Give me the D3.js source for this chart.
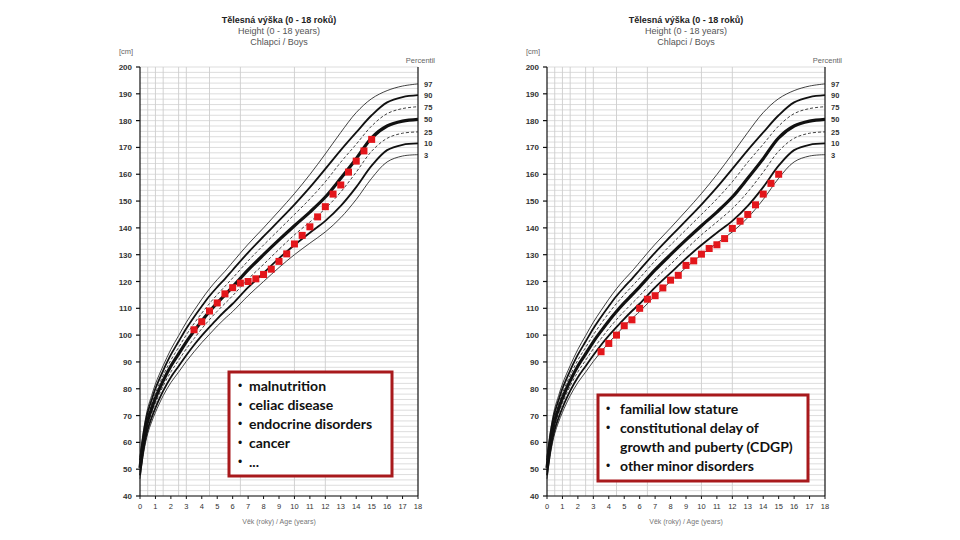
<!DOCTYPE html>
<html>
<head>
<meta charset="utf-8">
<script src="https://cdn.jsdelivr.net/npm/d3@7"></script>
<style>
  body { margin: 0; background: #fff; }
  svg { display: block; }
  text { font-family: "Liberation Sans", Arial, sans-serif; }
  .note { font-family: Lato, "Open Sans", sans-serif; font-size: 14px; font-weight: bold; fill: #111; }
  .bullet { font-family: "Liberation Sans", Arial, sans-serif; font-size: 12px; fill: #111; }
</style>
</head>
<body>
<svg id="chart" width="960" height="540"></svg>
<script>
// percentile reference, boys height (cm) by age (years)
const ages = [0, 0.25, 0.5, 0.75, 1, 1.5, 2, 2.5, 3, 3.5, 4, 4.5, 5, 5.5, 6, 7, 8, 9, 10, 11, 12, 13, 14, 15, 16, 17, 18];
const p3  = [46.4, 56.7, 63.3, 67.6, 71.2, 77.4, 82.3, 86.2, 90.2, 93.8, 97.2, 100.3, 103.4, 106.2, 108.8, 114.7, 120.0, 125.2, 130.0, 134.3, 138.5, 143.8, 150.6, 158.5, 164.6, 166.8, 167.3];
const p10 = [47.7, 58.1, 64.8, 69.2, 72.9, 79.2, 84.3, 88.4, 92.5, 96.3, 99.8, 103.0, 106.1, 109.0, 111.7, 117.8, 123.2, 128.6, 133.6, 138.2, 142.6, 148.2, 155.2, 163.2, 169.0, 171.0, 171.5];
const p25 = [49.0, 59.5, 66.3, 70.8, 74.6, 81.0, 86.3, 90.6, 94.9, 98.7, 102.4, 105.8, 108.9, 111.8, 114.7, 120.9, 126.4, 132.0, 137.4, 142.2, 147.2, 153.4, 160.8, 168.6, 173.4, 175.3, 175.8];
const p50 = [50.5, 61.0, 68.0, 72.5, 76.5, 83.0, 88.5, 93.0, 97.5, 101.5, 105.3, 108.8, 112.0, 115.0, 118.0, 124.3, 130.0, 135.5, 140.8, 145.9, 151.5, 158.5, 165.8, 173.6, 178.0, 179.8, 180.5];
const p75 = [52.0, 62.6, 69.7, 74.3, 78.4, 85.0, 90.7, 95.4, 100.1, 104.3, 108.2, 111.8, 115.1, 118.2, 121.3, 127.7, 133.6, 139.3, 145.0, 150.8, 157.2, 164.5, 171.2, 178.0, 182.6, 184.5, 185.2];
const p90 = [53.3, 64.0, 71.2, 75.8, 80.1, 86.8, 92.7, 97.6, 102.5, 106.8, 110.8, 114.6, 117.9, 121.0, 124.3, 130.8, 136.8, 142.7, 148.7, 155.1, 162.0, 169.0, 175.6, 182.0, 186.8, 188.8, 189.5];
const p97 = [54.6, 65.3, 72.7, 77.4, 81.8, 88.6, 94.7, 99.8, 104.8, 109.2, 113.4, 117.3, 120.7, 123.8, 127.2, 133.9, 140.0, 146.3, 152.8, 159.9, 167.6, 175.6, 183.0, 188.2, 191.2, 192.9, 193.7];

const percentileNames = ["97", "90", "75", "50", "25", "10", "3"];
const yTicks = [200, 190, 180, 170, 160, 150, 140, 130, 120, 110, 100, 90, 80, 70, 60, 50, 40];
const xTicks = [0, 1, 2, 3, 4, 5, 6, 7, 8, 9, 10, 11, 12, 13, 14, 15, 16, 17, 18];
const xGrid = [0.5, 1, 1.5, 2.5, 3, 4.5, 6.5, 10, 12];

// measured patients
const pointAges = [3.5, 4, 4.5, 5, 5.5, 6, 6.5, 7, 7.5, 8, 8.5, 9, 9.5, 10, 10.5, 11, 11.5, 12, 12.5, 13, 13.5, 14, 14.5, 15];
const leftHeights = [102, 105, 109, 112, 115.4, 117.7, 119.4, 120, 121, 122.6, 124.6, 127.5, 130.3, 134, 137.2, 140.4, 144.1, 147.9, 152.6, 156, 160.8, 164.9, 168.7, 173];
const rightHeights = [93.8, 96.9, 100, 103.5, 105.7, 110, 113.4, 114.7, 117.6, 120.5, 122.3, 126, 127.7, 130.2, 132.3, 133.7, 136, 139.8, 142.5, 145, 148.6, 152.6, 156.6, 160];

const leftNotes = [["malnutrition"], ["celiac disease"], ["endocrine disorders"], ["cancer"], ["..."]];
const rightNotes = [["familial low stature"], ["constitutional delay of", "growth and puberty (CDGP)"], ["other minor disorders"]];

const titleLines = ["Tělesná výška (0 - 18 roků)", "Height (0 - 18 years)", "Chlapci / Boys"];

const svg = d3.select("#chart");
const curveStyles = {
  "97": { w: 0.8, dash: null },
  "90": { w: 1.8, dash: null },
  "75": { w: 0.8, dash: "3,2" },
  "50": { w: 3.2, dash: null },
  "25": { w: 0.8, dash: "3,2" },
  "10": { w: 1.8, dash: null },
  "3":  { w: 0.8, dash: null }
};
const series = [p97, p90, p75, p50, p25, p10, p3];

function drawChart(x0, heights, notes, box) {
  const g = svg.append("g");
  const x = d3.scaleLinear().domain([0, 18]).range([x0, x0 + 278]);
  const y = d3.scaleLinear().domain([40, 200]).range([496, 67]);
  const cx = x(9);

  // titles
  g.selectAll(".title").data(titleLines).join("text")
    .attr("x", cx).attr("y", (d, i) => 23 + i * 11)
    .attr("text-anchor", "middle")
    .attr("font-size", "9px")
    .attr("font-weight", (d, i) => i === 0 ? "bold" : "normal")
    .attr("fill", (d, i) => i === 0 ? "#222" : "#555")
    .text(d => d);

  g.append("text").attr("x", x0 - 21).attr("y", 54)
    .attr("font-size", "7.5px").attr("fill", "#666").text("[cm]");
  g.append("text").attr("x", x(18) + 17).attr("y", 63)
    .attr("text-anchor", "end")
    .attr("font-size", "7.5px").attr("fill", "#666").text("Percentil");

  // grid
  g.selectAll(".hgrid").data(d3.range(40, 201, 2)).join("line")
    .attr("x1", x(0)).attr("x2", x(18))
    .attr("y1", d => y(d)).attr("y2", d => y(d))
    .attr("stroke", "#d4d4d4").attr("stroke-width", 0.8);
  g.selectAll(".vgrid").data(xGrid).join("line")
    .attr("x1", d => x(d)).attr("x2", d => x(d))
    .attr("y1", y(40)).attr("y2", y(200))
    .attr("stroke", "#cdcdcd").attr("stroke-width", 0.9);

  // frame
  g.append("line").attr("x1", x(0)).attr("x2", x(0)).attr("y1", y(40)).attr("y2", y(200))
    .attr("stroke", "#111").attr("stroke-width", 1.2);
  g.append("line").attr("x1", x(18)).attr("x2", x(18)).attr("y1", y(40)).attr("y2", y(200))
    .attr("stroke", "#111").attr("stroke-width", 1.2);
  g.append("line").attr("x1", x(0)).attr("x2", x(18)).attr("y1", y(40)).attr("y2", y(40))
    .attr("stroke", "#111").attr("stroke-width", 1.2);

  // y ticks
  g.selectAll(".yt").data(yTicks).join("line")
    .attr("x1", x(0) - 4).attr("x2", x(0))
    .attr("y1", d => y(d)).attr("y2", d => y(d))
    .attr("stroke", "#111").attr("stroke-width", 1.2);
  g.selectAll(".yl").data(yTicks).join("text")
    .attr("x", x(0) - 8).attr("y", d => y(d) + 3)
    .attr("text-anchor", "end").attr("font-size", "8px").attr("font-weight", "bold")
    .attr("fill", "#333").text(d => d);

  // x ticks
  g.selectAll(".xt").data(xTicks).join("line")
    .attr("x1", d => x(d)).attr("x2", d => x(d))
    .attr("y1", y(40)).attr("y2", y(40) + 3)
    .attr("stroke", "#111").attr("stroke-width", 1);
  g.selectAll(".xl").data(xTicks).join("text")
    .attr("x", d => x(d)).attr("y", y(40) + 13)
    .attr("text-anchor", "middle").attr("font-size", "7.5px")
    .attr("fill", "#333").text(d => d);
  g.append("text").attr("x", cx).attr("y", 524)
    .attr("text-anchor", "middle").attr("font-size", "7px").attr("fill", "#777")
    .text("Věk (roky) / Age (years)");

  // percentile curves
  const line = d3.line().x((d, i) => x(ages[i])).y(d => y(d)).curve(d3.curveCatmullRom.alpha(0.5));
  series.forEach((s, k) => {
    const st = curveStyles[percentileNames[k]];
    g.append("path").datum(s)
      .attr("d", line)
      .attr("fill", "none")
      .attr("stroke", "#111")
      .attr("stroke-width", st.w)
      .attr("stroke-dasharray", st.dash);
  });
  g.selectAll(".pl").data(percentileNames).join("text")
    .attr("x", x(18) + 6)
    .attr("y", (d, k) => y(series[k][series[k].length - 1]) + 3)
    .attr("font-size", "7.5px").attr("font-weight", "bold").attr("fill", "#333")
    .text(d => d);

  // patient points
  g.selectAll(".pt").data(heights).join("rect")
    .attr("x", (d, i) => x(pointAges[i]) - 3.5)
    .attr("y", d => y(d) - 3.5)
    .attr("width", 7).attr("height", 7)
    .attr("fill", "#e3161b");

  // note box
  g.append("rect")
    .attr("x", box.x).attr("y", box.y).attr("width", box.w).attr("height", box.h)
    .attr("fill", "#fff").attr("stroke", "#a8191c").attr("stroke-width", 3);
  let row = 0;
  notes.forEach(item => {
    item.forEach((txt, j) => {
      const ty = box.y + box.top + row * box.step;
      if (j === 0) {
        g.append("text").attr("class", "bullet").attr("x", box.x + box.bullet).attr("y", ty - 1).text("•");
      }
      g.append("text").attr("class", "note").attr("x", box.x + box.text).attr("y", ty).text(txt);
      row++;
    });
  });
}

drawChart(140, leftHeights, leftNotes, { x: 229, y: 372, w: 163, h: 104, top: 19, step: 19, bullet: 9, text: 20 });
drawChart(547, rightHeights, rightNotes, { x: 598, y: 395, w: 210, h: 86, top: 19, step: 19, bullet: 8, text: 22 });
</script>
</body>
</html>
